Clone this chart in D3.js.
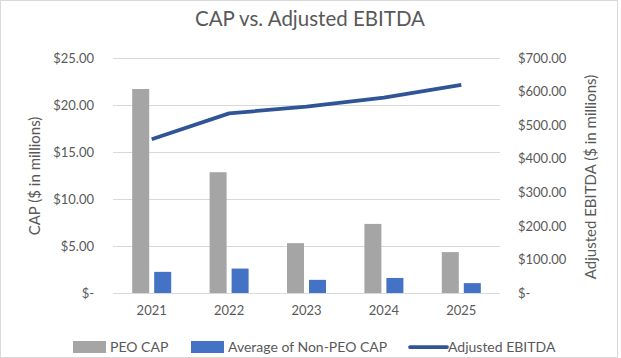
<!DOCTYPE html>
<html>
<head>
<meta charset="utf-8">
<script src="https://cdn.jsdelivr.net/npm/d3@7"></script>
<style>
body { margin: 0; background: #fff; }
svg { display: block; font-family: Lato, "Open Sans", sans-serif; }
</style>
</head>
<body>
<svg></svg>
<script>
// DATA
var years = ["2021", "2022", "2023", "2024", "2025"];
var peoCap = [21.7, 12.85, 5.3, 7.35, 4.35];
var nonPeoCap = [2.25, 2.6, 1.4, 1.6, 1.05];
var ebitda = [458, 535, 555, 582, 620];
var leftTicks = [0, 5, 10, 15, 20, 25];
var rightTicks = [0, 100, 200, 300, 400, 500, 600, 700];
var seriesNames = ["PEO CAP", "Average of Non-PEO CAP", "Adjusted EBITDA"];

var width = 621, height = 358;
var grey = "#a5a5a5", blue = "#4472c4", dark = "#2f5597", txt = "#595959", grid = "#d9d9d9";

var svg = d3.select("svg").attr("width", width).attr("height", height);

// chart border
svg.append("rect")
.attr("x", 0.5).attr("y", 0.5)
.attr("width", width - 4).attr("height", height - 1)
.attr("fill", "#fff").attr("stroke", grid);

// SCALES
var x0 = d3.scaleBand().domain(years).range([113, 500]);
var x1 = d3.scaleBand().domain([0, 1]).range([0, x0.bandwidth()])
.paddingInner(0.227).paddingOuter(0.873);
var yL = d3.scaleLinear().domain([0, 25]).range([293, 58]);
var yR = d3.scaleLinear().domain([0, 700]).range([293, 58]);

// title
svg.append("text")
.attr("x", 310).attr("y", 26)
.attr("text-anchor", "middle")
.attr("fill", txt)
.style("font-size", "20.5px")
.text("CAP vs. Adjusted EBITDA");

// gridlines
svg.append("g")
.selectAll("line")
.data(leftTicks)
.enter().append("line")
.attr("x1", 113).attr("x2", 500)
.attr("y1", (d) => yL(d) + 0.5).attr("y2", (d) => yL(d) + 0.5)
.attr("stroke", grid);

// left axis
var fmtL = (d) => d === 0 ? "$-" : "$" + d3.format(".2f")(d);
var axL = svg.append("g")
.attr("transform", "translate(113,0)")
.call(d3.axisLeft(yL).tickValues(leftTicks).tickFormat(fmtL).tickSize(0).tickPadding(19));
axL.select(".domain").remove();
axL.selectAll("text").attr("fill", txt).style("font-size", "13px").style("font-family", "Lato, sans-serif");

// right axis
var fmtR = (d) => d === 0 ? "$-" : "$" + d3.format(".2f")(d);
var axR = svg.append("g")
.attr("transform", "translate(500,0)")
.call(d3.axisRight(yR).tickValues(rightTicks).tickFormat(fmtR).tickSize(0).tickPadding(18));
axR.select(".domain").remove();
axR.selectAll("text").attr("fill", txt).style("font-size", "13px").style("font-family", "Lato, sans-serif");

// bottom axis
var axB = svg.append("g")
.attr("transform", "translate(0,293)")
.call(d3.axisBottom(x0).tickSize(0).tickPadding(13));
axB.select(".domain").remove();
axB.selectAll("text").attr("fill", txt).style("font-size", "13px").style("font-family", "Lato, sans-serif");

// axis titles
svg.append("text")
.attr("transform", "translate(40,176) rotate(-90)")
.attr("text-anchor", "middle").attr("fill", txt)
.style("font-size", "15px")
.text("CAP ($ in millions)");

svg.append("text")
.attr("transform", "translate(596,177) rotate(-90)")
.attr("text-anchor", "middle").attr("fill", txt)
.style("font-size", "15px")
.text("Adjusted EBITDA ($ in millions)");

// BARS
var groups = svg.append("g")
.selectAll("g")
.data(years)
.enter().append("g")
.attr("transform", (d) => "translate(" + x0(d) + ",0)");

groups.append("rect")
.attr("x", x1(0)).attr("width", x1.bandwidth())
.attr("y", (d, i) => yL(peoCap[i]))
.attr("height", (d, i) => yL(0) - yL(peoCap[i]))
.attr("fill", grey);

groups.append("rect")
.attr("x", x1(1)).attr("width", x1.bandwidth())
.attr("y", (d, i) => yL(nonPeoCap[i]))
.attr("height", (d, i) => yL(0) - yL(nonPeoCap[i]))
.attr("fill", blue);

// LINE
var line = d3.line()
.x((d, i) => x0(years[i]) + x0.bandwidth() / 2)
.y((d) => yR(d));

svg.append("path")
.datum(ebitda)
.attr("d", line)
.attr("fill", "none")
.attr("stroke", dark)
.attr("stroke-width", 3.75)
.attr("stroke-linejoin", "round");

// LEGEND
var legY = 347;
var leg = svg.append("g");
leg.append("rect").attr("x", 73).attr("y", legY - 6).attr("width", 33).attr("height", 12).attr("fill", grey);
leg.append("text").attr("x", 110).attr("y", legY + 5).attr("fill", txt).style("font-size", "14px").text(seriesNames[0]);
leg.append("rect").attr("x", 191).attr("y", legY - 6).attr("width", 33).attr("height", 12).attr("fill", blue);
leg.append("text").attr("x", 228).attr("y", legY + 5).attr("fill", txt).style("font-size", "14px").text(seriesNames[1]);
leg.append("line").attr("x1", 410).attr("x2", 447).attr("y1", legY).attr("y2", legY)
.attr("stroke", dark).attr("stroke-width", 3.75).attr("stroke-linecap", "round");
leg.append("text").attr("x", 448).attr("y", legY + 5).attr("fill", txt).style("font-size", "14px").text(seriesNames[2]);
</script>
</body>
</html>
